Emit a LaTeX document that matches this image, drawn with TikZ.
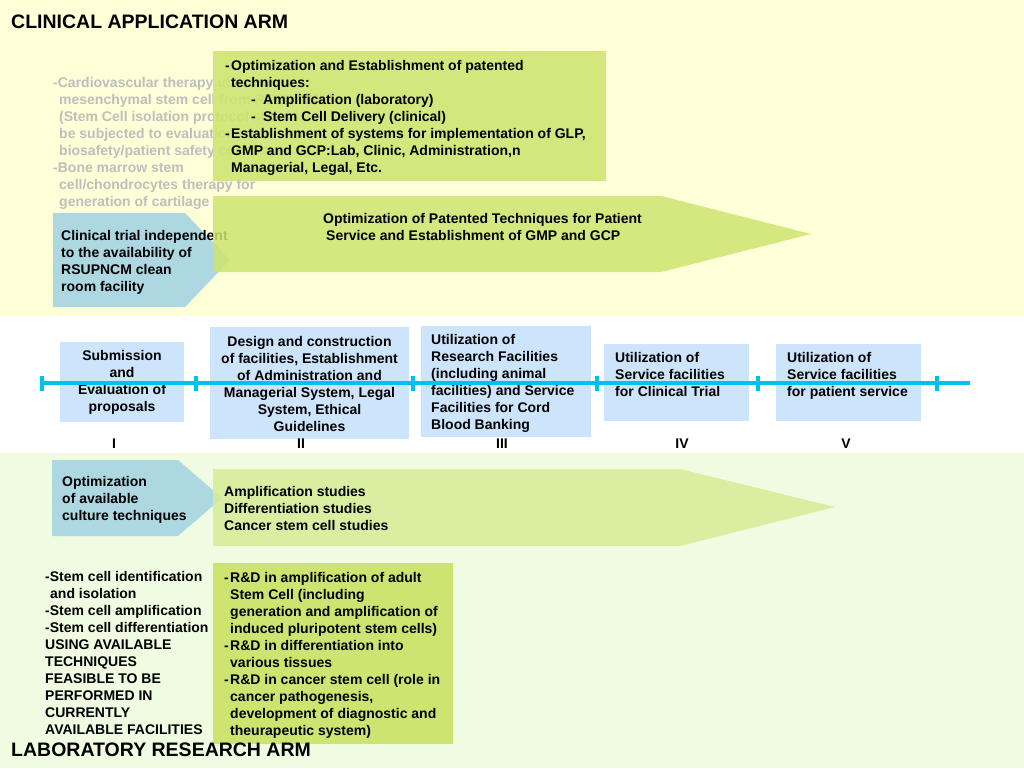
\documentclass[tikz,border=0pt]{standalone}
\usepackage{fontspec}
\setmainfont{Liberation Sans}
\usepackage{tikz}

\definecolor{clinyellow}{RGB}{255,255,216}
\definecolor{labgreen}{RGB}{240,252,225}
\definecolor{optgreen}{RGB}{206,228,112}
\definecolor{studygreen}{RGB}{214,236,150}
\definecolor{trialblue}{RGB}{173,216,226}
\definecolor{phaseblue}{RGB}{204,228,252}
\definecolor{timecyan}{RGB}{0,192,240}
\definecolor{hidgray}{RGB}{190,190,190}

\newcommand{\itemdash}{\makebox[6pt][l]{-}}
\newcommand{\itemind}{\hspace*{6pt}}

\tikzset{
  armtitle/.style={font=\bfseries\fontsize{19.5}{22}\selectfont, anchor=west},
  txt/.style={align=left, anchor=north west},
  ctxt/.style={align=center, anchor=north},
  timeline/.style={draw=timecyan, line width=4pt},
  tickmark/.style={draw=timecyan, line width=4pt},
}

\begin{document}
\begin{tikzpicture}[x=1pt, y=-1pt, every node/.style={font=\bfseries\fontsize{14}{17}\selectfont, inner sep=0pt}]
        \useasboundingbox (0,0) rectangle (1024,768);

        % --- Background bands ---
        \fill[clinyellow] (0,0) rectangle (1024,316);
        \fill[white] (0,316) rectangle (1024,453);
        \fill[labgreen] (0,453) rectangle (1024,768);
        % ---

        % --- Clinical application arm ---
        \node[armtitle] (clintitle) at (11,22) {CLINICAL APPLICATION ARM};
        \node[txt, text=hidgray] (therapies) at (53,77) {-Cardiovascular therapy utilizing\\
            \itemind mesenchymal stem cell from RSUPNCM\\
            \itemind (Stem Cell isolation protocol should\\
            \itemind be subjected to evaluation of\\
            \itemind biosafety/patient safety committee)\\
            -Bone marrow stem\\
            \itemind cell/chondrocytes therapy for\\
            \itemind generation of cartilage};
        \fill[optgreen, fill opacity=0.88] (213,51) rectangle (606,181);
        \node[txt] (patented) at (225,60) {\itemdash Optimization and Establishment of patented\\
            \itemind techniques:\\
            \hspace*{26pt}\makebox[12pt][l]{-}Amplification (laboratory)\\
            \hspace*{26pt}\makebox[12pt][l]{-}Stem Cell Delivery (clinical)\\
            \itemdash Establishment of systems for implementation of GLP,\\
            \itemind GMP and GCP:Lab, Clinic, Administration,n\\
            \itemind Managerial, Legal, Etc.};
        \fill[trialblue] (53,213) -- (185,213) -- (230,260) -- (185,307) -- (53,307) -- cycle;
        \node[txt] (trial) at (61,230) {Clinical trial independent\\to the availability of\\RSUPNCM clean\\room facility};
        \fill[optgreen, fill opacity=0.85] (213,196) -- (661,196) -- (811,234) -- (661,272) -- (213,272) -- cycle;
        \node[txt] (service) at (323,213) {Optimization of Patented Techniques for Patient\\
            \hspace*{3pt}Service and Establishment of GMP and GCP};
        % ---

        % --- Phases on the time line ---
        \fill[phaseblue] (60,342) rectangle (184,422);
        \fill[phaseblue] (210,327) rectangle (409,439);
        \fill[phaseblue] (421,326) rectangle (591,437);
        \fill[phaseblue] (604,344) rectangle (749,421);
        \fill[phaseblue] (776,344) rectangle (921,421);
        \node[ctxt] (phaseI) at (122,350) {Submission\\and\\Evaluation of\\proposals};
        \node[ctxt] (phaseII) at (309.5,336) {Design and construction\\of facilities, Establishment\\of Administration and\\Managerial System, Legal\\System, Ethical\\Guidelines};
        \node[txt] (phaseIII) at (431,334) {Utilization of\\Research Facilities\\(including animal\\facilities) and Service\\Facilities for Cord\\Blood Banking};
        \node[txt] (phaseIV) at (615,352) {Utilization of\\Service facilities\\for Clinical Trial};
        \node[txt] (phaseV) at (787,352) {Utilization of\\Service facilities\\for patient service};

        \coordinate (tlstart) at (40,383);
        \coordinate (tlend) at (970,383);
        \draw[timeline] (tlstart) -- (tlend);
        \foreach \x in {42,196,413,597,758,937}
            \draw[tickmark] (\x,376) -- (\x,391);

        \node (numI) at (114,444) {I};
        \node (numII) at (301,444) {II};
        \node (numIII) at (502,444) {III};
        \node (numIV) at (682,444) {IV};
        \node (numV) at (846,444) {V};
        % ---

        % --- Laboratory research arm ---
        \fill[trialblue] (52,460) -- (178,460) -- (222,498) -- (178,536) -- (52,536) -- cycle;
        \node[txt] (culture) at (62,476) {Optimization\\of available\\culture techniques};
        \fill[studygreen, fill opacity=0.85] (213,469) -- (680,469) -- (835,507) -- (680,546) -- (213,546) -- cycle;
        \node[txt] (studies) at (224,486) {Amplification studies\\Differentiation studies\\Cancer stem cell studies};

        \node[txt] (feasible) at (45,571) {-Stem cell identification\\
            \hspace*{5pt}and isolation\\
            -Stem cell amplification\\
            -Stem cell differentiation\\
            USING AVAILABLE\\TECHNIQUES\\FEASIBLE TO BE\\PERFORMED IN\\CURRENTLY\\AVAILABLE FACILITIES};
        \fill[optgreen] (213,563) rectangle (453,744);
        \node[txt] (research) at (224,572) {\itemdash R\&D in amplification of adult\\
            \itemind Stem Cell (including\\
            \itemind generation and amplification of\\
            \itemind induced pluripotent stem cells)\\
            \itemdash R\&D in differentiation into\\
            \itemind various tissues\\
            \itemdash R\&D in cancer stem cell (role in\\
            \itemind cancer pathogenesis,\\
            \itemind development of diagnostic and\\
            \itemind theurapeutic system)};
        \node[armtitle] (labtitle) at (11,750) {LABORATORY RESEARCH ARM};
        % ---
\end{tikzpicture}
\end{document}
